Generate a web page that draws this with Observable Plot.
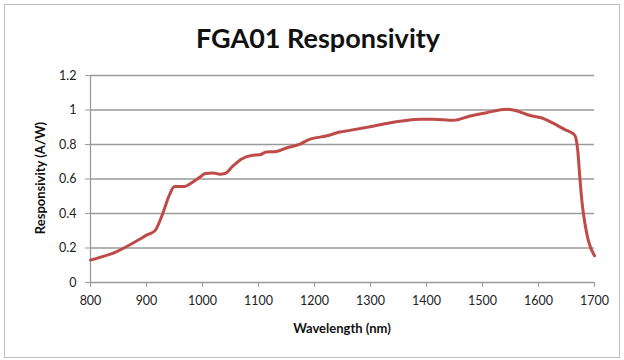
<!DOCTYPE html>
<html>
<head>
<meta charset="utf-8">
<script src="https://cdn.jsdelivr.net/npm/d3@7"></script>
<script src="https://cdn.jsdelivr.net/npm/@observablehq/plot@0.6"></script>
<style>
  html, body { margin: 0; padding: 0; background: #fff; }
  #wrap { position: relative; width: 624px; height: 360px; font-family: Lato, "Open Sans", sans-serif; }
  #frame { position: absolute; left: 4px; top: 4px; width: 616px; height: 354px; border: 1px solid #bdbdbd; box-sizing: border-box; }
  #title { position: absolute; left: 0; width: 636px; top: 21px; text-align: center; font-weight: bold; font-size: 27px; color: #111; }
  #xlabel { position: absolute; left: 90px; width: 504px; top: 320px; text-align: center; font-weight: bold; font-size: 13px; color: #111; }
  #ylabel { position: absolute; left: 40px; top: 178px; transform: translate(-50%, -50%) rotate(-90deg); white-space: nowrap; font-weight: bold; font-size: 13px; color: #111; }
  #chart { position: absolute; left: 0; top: 0; }
</style>
</head>
<body>
<div id="wrap">
  <div id="frame"></div>
  <div id="chart"></div>
  <div id="title">FGA01 Responsivity</div>
  <div id="ylabel">Responsivity (A/W)</div>
  <div id="xlabel">Wavelength (nm)</div>
</div>
<script>
const wavelength = [800, 846, 887, 901, 915, 929, 940, 950, 968, 980, 995, 1005, 1019, 1031, 1040, 1054, 1069, 1090, 1102, 1114, 1132, 1150, 1174, 1191, 1204, 1221, 1245, 1263, 1299, 1346, 1388, 1412, 1448, 1478, 1507, 1543, 1555, 1585, 1605, 1627, 1650, 1657, 1665, 1670, 1674, 1678, 1683, 1689, 1700];
const responsivity = [0.13, 0.178, 0.249, 0.276, 0.30, 0.40, 0.50, 0.557, 0.557, 0.577, 0.61, 0.632, 0.635, 0.628, 0.632, 0.674, 0.715, 0.738, 0.74, 0.757, 0.76, 0.78, 0.802, 0.83, 0.84, 0.849, 0.872, 0.882, 0.903, 0.932, 0.947, 0.947, 0.94, 0.965, 0.984, 1.005, 1.0, 0.968, 0.955, 0.922, 0.882, 0.872, 0.852, 0.767, 0.602, 0.457, 0.34, 0.243, 0.155];
const yTicks = [0, 0.2, 0.4, 0.6, 0.8, 1, 1.2];
const xTicks = [800, 900, 1000, 1100, 1200, 1300, 1400, 1500, 1600, 1700];

const data = wavelength.map((w, i) => ({w, r: responsivity[i]}));

const chart = Plot.plot({
  width: 624,
  height: 360,
  marginLeft: 90,
  marginRight: 30,
  marginTop: 75,
  marginBottom: 78,
  style: {fontFamily: "Lato, 'Open Sans', sans-serif", fontSize: "12.5px", color: "#222", background: "transparent"},
  x: {domain: [800, 1700], ticks: xTicks, label: null},
  y: {domain: [0, 1.2], ticks: yTicks, label: null},
  marks: [
    Plot.ruleY(yTicks.filter(d => d > 0), {stroke: "#9a9a9a", strokeWidth: 1.3, strokeOpacity: 1}),
    Plot.ruleX([800], {stroke: "#9a9a9a", strokeWidth: 1.3}),
    Plot.ruleY([0], {stroke: "#9a9a9a", strokeWidth: 1.3}),
    Plot.axisY({ticks: yTicks, tickSize: 5, tickPadding: 9, tickFormat: d => String(d), stroke: "#9a9a9a", label: null}),
    Plot.axisX({ticks: xTicks, tickSize: 5, tickPadding: 9, tickFormat: d => String(d), stroke: "#9a9a9a", label: null}),
    Plot.line(data, {x: "w", y: "r", stroke: "#be4b48", strokeWidth: 3, curve: "monotone-x"})
  ]
});
document.getElementById("chart").appendChild(chart);
</script>
</body>
</html>
